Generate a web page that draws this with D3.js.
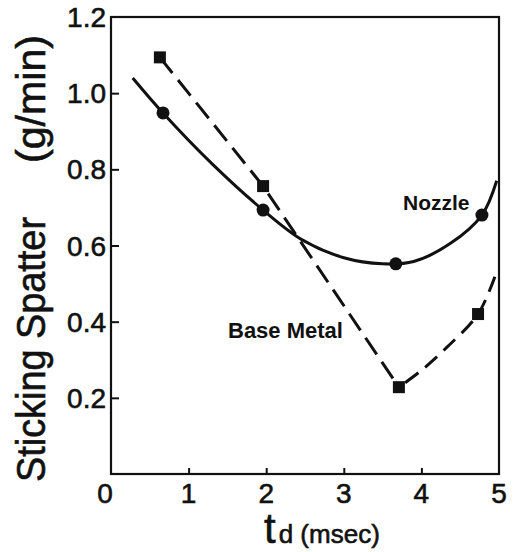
<!DOCTYPE html>
<html>
<head>
<meta charset="utf-8">
<script src="https://cdn.jsdelivr.net/npm/d3@7"></script>
<style>
body { margin: 0; background: #fff; }
text { font-family: "Liberation Sans", Arial, sans-serif; fill: #111; }
.heavy { stroke: #111; stroke-width: 0.6px; }
</style>
</head>
<body>
<script>
// values
var xTicks = [1, 2, 3, 4];
var xTickLabels = [0, 1, 2, 3, 4, 5];
var yTicks = [0.2, 0.4, 0.6, 0.8, 1.0];
var yTickLabels = ["0.2", "0.4", "0.6", "0.8", "1.0", "1.2"];

var nozzleX = [0.67, 1.96, 3.67, 4.78];
var nozzleY = [0.948, 0.693, 0.552, 0.68];
var baseX = [0.63, 1.96, 3.71, 4.73];
var baseY = [1.094, 0.756, 0.228, 0.42];

// the drawn lines (fitted by hand in the original)
var nozzleLine = [[0.28, 1.04], [0.67, 0.948], [1.3, 0.815], [1.96, 0.693], [2.47, 0.614], [3.0, 0.568], [3.5, 0.552], [3.9, 0.558], [4.37, 0.605], [4.78, 0.68], [4.97, 0.77]];
var baseLineDown = [[0.63, 1.094], [1.96, 0.756], [3.71, 0.228]];
var baseLineUp = [[3.71, 0.228], [4.0, 0.272], [4.33, 0.333], [4.73, 0.42], [4.95, 0.52]];

var svg = d3.select("body").append("svg")
    .attr("width", 516)
    .attr("height", 552);

var x = d3.scaleLinear().domain([0, 5]).range([111, 499]);
var y = d3.scaleLinear().domain([0, 1.2]).range([474, 17]);

// frame
svg.append("rect")
    .attr("x", x(0)).attr("y", y(1.2))
    .attr("width", x(5) - x(0)).attr("height", y(0) - y(1.2))
    .attr("fill", "none").attr("stroke", "#111").attr("stroke-width", 2.2);

var yAxis = d3.axisLeft(y).tickValues(yTicks).tickSize(-8).tickFormat("");
svg.append("g").attr("transform", "translate(" + x(0) + ",0)").call(yAxis)
    .call(function(g) { g.select(".domain").remove(); })
    .selectAll("line").attr("stroke", "#111").attr("stroke-width", 2);

var xAxis = d3.axisBottom(x).tickValues(xTicks).tickSize(-6).tickFormat("");
svg.append("g").attr("transform", "translate(0," + y(0) + ")").call(xAxis)
    .call(function(g) { g.select(".domain").remove(); })
    .selectAll("line").attr("stroke", "#111").attr("stroke-width", 2);

svg.selectAll(".ylab")
    .data(yTickLabels)
  .enter().append("text")
    .attr("class", "ylab heavy")
    .attr("x", 106)
    .attr("y", function(d) { return y(+d) + 10; })
    .style("text-anchor", "end")
    .style("font-size", "28px")
    .text(function(d) { return d; });

svg.selectAll(".xlab")
    .data(xTickLabels)
  .enter().append("text")
    .attr("class", "xlab heavy")
    .attr("x", function(d) { return d == 0 ? x(d) - 6 : x(d); })
    .attr("y", 503)
    .style("text-anchor", "middle")
    .style("font-size", "28px")
    .text(function(d) { return d; });

// axis titles
svg.append("text")
    .attr("class", "heavy")
    .attr("transform", "translate(45,482) rotate(-90)")
    .attr("textLength", 265).attr("lengthAdjust", "spacingAndGlyphs")
    .style("font-size", "40px")
    .text("Sticking Spatter");
svg.append("text")
    .attr("class", "heavy")
    .attr("transform", "translate(45,163) rotate(-90)")
    .attr("textLength", 128).attr("lengthAdjust", "spacingAndGlyphs")
    .style("font-size", "40px")
    .text("(g/min)");

var xt = svg.append("text").attr("class", "heavy").attr("x", 264).attr("y", 543);
xt.append("tspan").style("font-size", "42px").text("t");
xt.append("tspan").attr("dx", 3).style("font-size", "26px").text("d (msec)");

// lines
var line = d3.line().x(function(d) { return x(d[0]); }).y(function(d) { return y(d[1]); });

svg.append("path")
    .attr("d", line.curve(d3.curveCatmullRom)(nozzleLine))
    .attr("fill", "none").attr("stroke", "#111").attr("stroke-width", 3);

svg.append("path")
    .attr("d", line.curve(d3.curveLinear)(baseLineDown))
    .attr("fill", "none").attr("stroke", "#111").attr("stroke-width", 3)
    .attr("stroke-dasharray", "20,9");

svg.append("path")
    .attr("d", line.curve(d3.curveCatmullRom)(baseLineUp))
    .attr("fill", "none").attr("stroke", "#111").attr("stroke-width", 3)
    .attr("stroke-dasharray", "16,9").attr("stroke-dashoffset", -8);

// markers
svg.selectAll(".dot")
    .data(nozzleX)
  .enter().append("circle")
    .attr("class", "dot")
    .attr("r", 6.5)
    .attr("cx", function(d) { return x(d); })
    .attr("cy", function(d, i) { return y(nozzleY[i]); })
    .style("fill", "#111");

svg.selectAll(".sq")
    .data(baseX)
  .enter().append("rect")
    .attr("class", "sq")
    .attr("width", 12).attr("height", 12)
    .attr("x", function(d) { return x(d) - 6; })
    .attr("y", function(d, i) { return y(baseY[i]) - 6; })
    .style("fill", "#111");

svg.append("text")
    .attr("x", 403).attr("y", 210)
    .style("font-size", "21px").style("font-weight", "bold")
    .text("Nozzle");
svg.append("text")
    .attr("x", 228).attr("y", 338)
    .style("font-size", "22px").style("font-weight", "bold")
    .text("Base Metal");
</script>
</body>
</html>
